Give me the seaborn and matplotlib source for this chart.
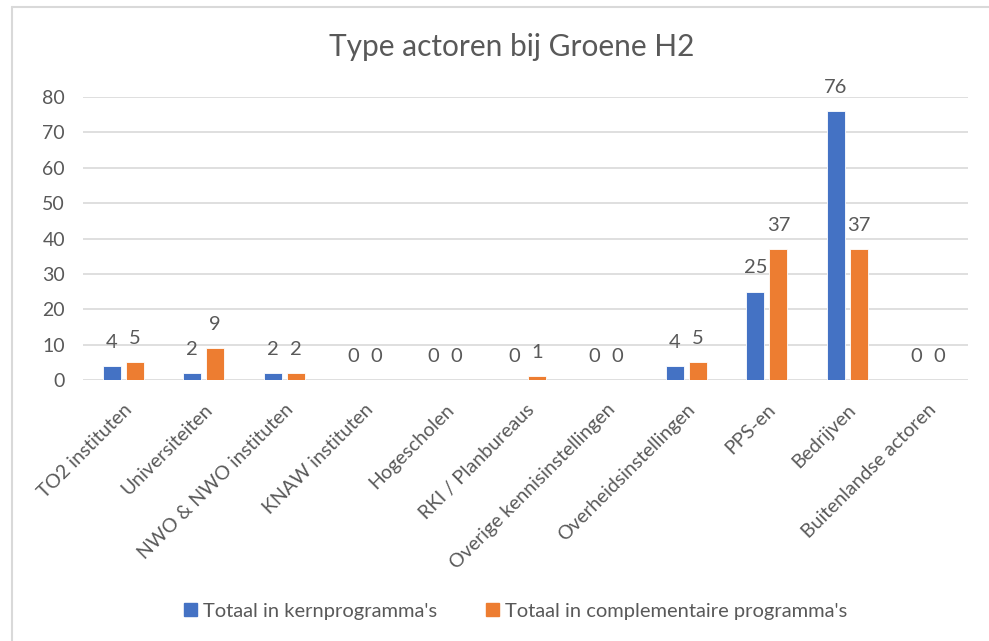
import numpy as np
import pandas as pd
import matplotlib
matplotlib.use("Agg")
import matplotlib.pyplot as plt
import seaborn as sns
from matplotlib.patches import Rectangle
from matplotlib.lines import Line2D

categories = [
    "TO2 instituten", "Universiteiten", "NWO & NWO instituten", "KNAW instituten",
    "Hogescholen", "RKI / Planbureaus", "Overige kennisinstellingen",
    "Overheidsinstellingen", "PPS-en", "Bedrijven", "Buitenlandse actoren",
]
kern = [4, 2, 2, 0, 0, 0, 0, 4, 25, 76, 0]
complementair = [5, 9, 2, 0, 0, 1, 0, 5, 37, 37, 0]
series_names = ["Totaal in kernprogramma's", "Totaal in complementaire programma's"]
colors = ["#4472C4", "#ED7D31"]

df = pd.DataFrame({
    "Categorie": categories * 2,
    "Aantal": kern + complementair,
    "Reeks": [series_names[0]] * len(categories) + [series_names[1]] * len(categories),
})

sns.set_style("white")
plt.rcParams["font.family"] = ["Lato", "DejaVu Sans"]
text_col = "#595959"

fig = plt.figure(figsize=(9.89, 6.41), dpi=100)
ax = fig.add_axes([83 / 989, 1 - 380 / 641, (968 - 83) / 989, (380 - 97) / 641])

sns.barplot(data=df, x="Categorie", y="Aantal", hue="Reeks", palette=colors,
            saturation=1, width=0.57, gap=0.22, ax=ax,
            edgecolor="white", linewidth=0.6)

for cont in ax.containers:
    ax.bar_label(cont, fmt="%d", padding=11, fontsize=14.5, color=text_col)

ax.set_ylim(0, 80)
ax.set_xlim(-0.5, len(categories) - 0.5)
ax.set_yticks(np.arange(0, 81, 10))
ax.yaxis.grid(True, color="#D9D9D9", linewidth=1.2)
ax.set_axisbelow(True)
for s in ax.spines.values():
    s.set_visible(False)
ax.tick_params(axis="both", length=0, labelsize=14, colors=text_col)
ax.tick_params(axis="y", pad=13)
ax.set_xlabel("")
ax.set_ylabel("")
plt.setp(ax.get_xticklabels(), rotation=45, ha="right", rotation_mode="anchor")
ax.tick_params(axis="x", pad=15)

ax.get_legend().remove()
handles = [Rectangle((0, 0), 1, 1, color=c) for c in colors]
fig.legend(handles, series_names, loc="center left",
           bbox_to_anchor=(166 / 989, 1 - 611 / 641), ncol=2, frameon=False,
           fontsize=14.5, labelcolor=text_col, handlelength=0.65, handleheight=0.65,
           handletextpad=0.3, columnspacing=2.4)

fig.text(512 / 989, 1 - 47 / 641, "Type actoren bij Groene H2", ha="center", va="center",
         fontsize=21.5, color=text_col)

# chart frame: only top and left edges visible
fig.lines.append(Line2D([12 / 989, 12 / 989], [0, 1 - 7 / 641], transform=fig.transFigure,
                        color="#D9D9D9", linewidth=1.5))
fig.lines.append(Line2D([12 / 989, 1], [1 - 7 / 641, 1 - 7 / 641], transform=fig.transFigure,
                        color="#D9D9D9", linewidth=1.5))

fig.savefig("out.png", dpi=100, facecolor="white")
